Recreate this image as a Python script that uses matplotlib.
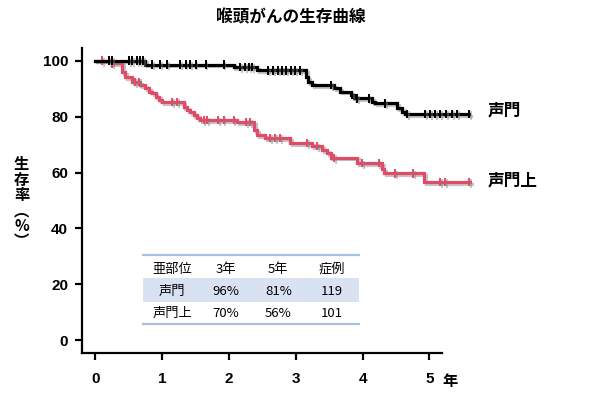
import numpy as np
import matplotlib
matplotlib.use('Agg')
import matplotlib.pyplot as plt
import matplotlib.patheffects as pe

plt.rcParams['font.family'] = ['Noto Sans CJK JP', 'DejaVu Sans']

# 声門 (glottic)
glottis_t = [0, 0.75, 2.07, 2.42, 3.15, 3.19, 3.24, 3.57, 3.66, 3.82, 3.87,
             4.14, 4.19, 4.52, 4.59, 4.64, 5.59]
glottis_s = [100, 98.6, 97.8, 96.5, 94.2, 92.4, 91.2, 90.3, 88.9, 87.7, 86.5,
             85.3, 84.7, 82.9, 81.7, 81.0, 81.0]
glottis_cens = [0.20, 0.25, 0.50, 0.55, 0.62, 0.67, 0.72, 0.85, 0.97, 1.07,
                1.27, 1.35, 1.42, 1.50, 1.65, 1.92, 2.17, 2.24, 2.30, 2.35,
                2.59, 2.66, 2.73, 2.80, 2.86, 2.93, 2.99, 3.06, 3.53, 3.84,
                3.92, 4.09, 4.34, 4.67, 4.93, 5.01, 5.09, 5.16, 5.25, 5.34,
                5.41, 5.59]

# 声門上 (supraglottic)
supra_t = [0, 0.25, 0.40, 0.45, 0.55, 0.67, 0.75, 0.80, 0.85, 0.90, 0.95,
           1.00, 1.32, 1.37, 1.42, 1.47, 1.52, 1.57, 2.12, 2.37, 2.42, 2.54,
           2.92, 3.24, 3.39, 3.47, 3.52, 3.92, 4.29, 4.32, 4.92, 5.61]
supra_s = [100, 99.0, 96.0, 94.2, 92.4, 91.3, 90.1, 88.9, 88.3, 87.1, 85.9,
           85.3, 83.5, 82.3, 81.7, 80.5, 79.4, 78.8, 78.1, 75.2, 73.4, 72.4,
           70.6, 69.5, 68.0, 66.9, 65.3, 63.3, 61.1, 59.7, 56.7, 56.7]
supra_cens = [0.10, 0.25, 0.60, 0.65, 1.15, 1.22, 1.62, 1.67, 1.84, 1.92,
              2.07, 2.25, 2.32, 2.62, 2.69, 2.77, 3.17, 3.32, 3.57, 3.99,
              4.24, 4.49, 4.76, 5.16, 5.24, 5.59]

table_header = ['亜部位', '3年', '5年', '症例']
table_rows = [['声門', '96%', '81%', '119'],
              ['声門上', '70%', '56%', '101']]

black = '#000000'
red = '#E04C68'

fig = plt.figure(figsize=(6, 3.99), dpi=100)
ax = fig.add_axes([0.1367, 0.1153, 0.6625, 0.7644])
ax.set_xlim(-0.2, 5.75)
ax.set_ylim(-4.5, 104.5)

shadow = [pe.SimpleLineShadow(offset=(1.3, -1.3), shadow_color='#808080', alpha=0.45),
          pe.Normal()]


def level_at(times, surv, pts):
    idx = np.searchsorted(times, pts, side='right') - 1
    return np.array(surv)[idx]


for t, s, c, col in [(supra_t, supra_s, supra_cens, red),
                     (glottis_t, glottis_s, glottis_cens, black)]:
    ax.step(t, s, where='post', color=col, lw=2.3, path_effects=shadow,
            solid_joinstyle='miter')
    ax.plot(c, level_at(t, s, c), ls='none', marker='|', ms=6, mew=1.4,
            color=col, path_effects=shadow)

# spines / ticks
for side in ['top', 'right']:
    ax.spines[side].set_visible(False)
ax.spines['left'].set_linewidth(1.6)
ax.spines['bottom'].set_linewidth(1.6)
ax.spines['bottom'].set_bounds(-0.2, 5.19)
ax.set_xticks([0, 1, 2, 3, 4, 5])
ax.set_yticks([0, 20, 40, 60, 80, 100])
ax.tick_params(direction='out', length=5, width=1.6, labelsize=11, pad=5)
ax.tick_params(axis='x', pad=9)
for lab in ax.get_xticklabels() + ax.get_yticklabels():
    lab.set_fontweight('bold')
    lab.set_family('Liberation Sans')
ax.text(5.19, -14.6, '年', fontsize=11, fontweight='bold', va='center', ha='left',
        clip_on=False)

# y label (vertical stacked)
fig.text(0.036, 0.492, '生\n存\n率\n︵\n%\n︶', fontsize=11, fontweight='bold',
         ha='center', va='center', linespacing=0.95)

fig.text(0.485, 0.955, '喉頭がんの生存曲線', fontsize=12, fontweight='bold',
         ha='center', va='center')

# series labels
ax.text(5.87, 82, '声門', fontsize=12, fontweight='bold', va='center', ha='left',
        clip_on=False)
ax.text(5.87, 57, '声門上', fontsize=12, fontweight='bold', va='center', ha='left',
        clip_on=False)

# summary table
col_x = [1.15, 1.95, 2.74, 3.54]
row_y = [25.5, 17.4, 9.5]
x0, x1 = 0.72, 3.94
ax.fill_between([x0, x1], 13.9, 22.3, color='#D9E2F3', lw=0)
ax.plot([x0, x1], [30.5, 30.5], color='#A9C1E4', lw=1.6)
ax.plot([x0, x1], [5.9, 5.9], color='#A9C1E4', lw=1.6)
for j, txt in enumerate(table_header):
    ax.text(col_x[j], row_y[0], txt, fontsize=9.5, ha='center', va='center')
for i, row in enumerate(table_rows):
    for j, txt in enumerate(row):
        ax.text(col_x[j], row_y[i + 1], txt, fontsize=9.5, ha='center', va='center')

fig.savefig('out.png', dpi=100)
